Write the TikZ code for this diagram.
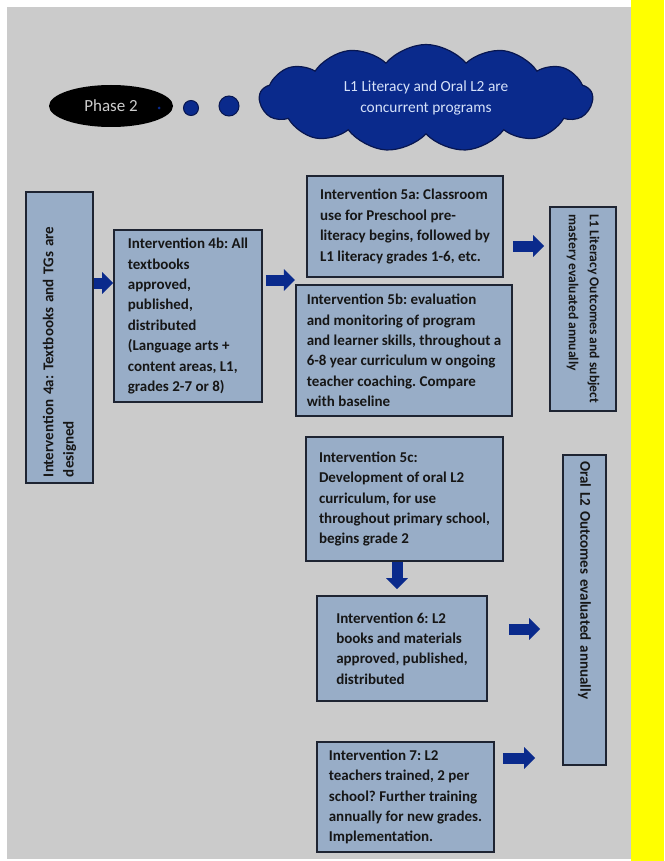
\documentclass[tikz,border=0pt]{standalone}
\usepackage{fontspec}
\setmainfont{Carlito}
\usetikzlibrary{shapes.geometric, shapes.symbols, arrows.meta, positioning}
\frenchspacing

\definecolor{bggray}{RGB}{203,203,203}
\definecolor{boxblue}{RGB}{152,173,199}
\definecolor{boxline}{RGB}{30,36,50}
\definecolor{arrowblue}{RGB}{10,42,140}
\definecolor{cloudline}{RGB}{8,22,80}
\definecolor{cloudtext}{RGB}{214,226,250}
\definecolor{phasetext}{RGB}{205,205,205}
\definecolor{textdark}{RGB}{22,22,22}
\definecolor{sideyellow}{RGB}{255,255,0}

\tikzset{
  ibox/.style={draw=boxline, line width=1.6pt, fill=boxblue, text=textdark, align=left,
    inner xsep=11pt, font=\fontsize{15}{20.4}\selectfont\bfseries},
  barrow/.style={draw=arrowblue, line width=11pt, -{Triangle[length=11pt,width=21pt]}},
  bubble/.style={circle, draw=cloudline, fill=arrowblue, inner sep=0pt, line width=1pt}
}

\begin{document}
\begin{tikzpicture}[x=1pt,y=-1pt]
		\useasboundingbox (0,0) rectangle (664,861);
		\fill[white] (0,0) rectangle (664,861);
		\fill[bggray] (7,7) rectangle (631,859);
		\fill[sideyellow] (631,0) rectangle (664,861);

		\node[ellipse, fill=black, minimum width=124pt, minimum height=42pt, inner sep=0pt,
			text=phasetext, font=\fontsize{17}{20}\selectfont] (ph) at (111,106) {Phase 2};
		\node[bubble, draw=none, minimum size=3pt] (d0) at (159,108) {};
		\node[bubble, minimum size=15pt] (d1) at (191,108) {};
		\node[bubble, minimum size=20pt] (d2) at (229,106) {};
		\node[cloud, cloud puffs=13, cloud puff arc=100, aspect=3.1, draw=cloudline, line width=1.2pt,
			fill=arrowblue, minimum width=333pt, minimum height=107pt, inner sep=0pt, text=cloudtext,
			align=center, font=\fontsize{15.4}{21}\selectfont] (cl) at (426,98) {L1 Literacy and Oral L2 are\\concurrent programs};

		\node[ibox, rotate=90, minimum width=291pt, minimum height=67pt, inner xsep=6pt, text width=279pt] (b4a) at (59.5,337.5) {Intervention 4a: Textbooks and TGs are\\designed};
		\node[ibox, minimum width=148pt, minimum height=172pt] (b4b) at (188,316) {Intervention 4b: All\\textbooks\\approved,\\published,\\distributed\\(Language arts +\\content areas, L1,\\grades 2-7 or 8)};
		\node[ibox, minimum width=196pt, minimum height=101pt] (b5a) at (405,226.5) {Intervention 5a: Classroom\\use for Preschool pre-\\literacy begins, followed by\\L1 literacy grades 1-6, etc.};
		\node[ibox, minimum width=216pt, minimum height=131pt] (b5b) at (404,350.5) {Intervention 5b: evaluation\\and monitoring of program\\and learner skills, throughout a\\6-8 year curriculum w ongoing\\teacher coaching. Compare\\with baseline};
		\node[ibox, minimum width=197pt, minimum height=124pt] (b5c) at (404.5,499) {Intervention 5c:\\Development of oral L2\\curriculum, for use\\throughout primary school,\\begins grade 2};
		\node[ibox, minimum width=170pt, minimum height=105pt] (b6) at (402,648.5) {Intervention 6: L2\\books and materials\\approved, published,\\distributed};
		\node[ibox, minimum width=177pt, minimum height=110pt] (b7) at (405.5,797) {Intervention 7: L2\\teachers trained, 2 per\\school? Further training\\annually for new grades.\\Implementation.};
		\node[ibox, rotate=-90, minimum width=204pt, minimum height=66pt, inner xsep=4pt,
			font=\fontsize{13.6}{21}\selectfont\bfseries] (l1) at (583,309) {L1 Literacy Outcomes and subject\\mastery evaluated annually};
		\node[ibox, rotate=-90, minimum width=310pt, minimum height=43pt, inner xsep=6pt, text width=298pt] (l2) at (584.5,610) {Oral L2 Outcomes evaluated annually};

		\coordinate (a4s) at ([xshift=-7.5pt]b5c.south);
		\draw[barrow] (b4a.south |- 0,283) -- (b4b.west |- 0,283);
		\draw[barrow, shorten <=3pt] (b4b.east |- 0,280) -- (b5b.west |- 0,280);
		\draw[barrow, shorten <=9pt, shorten >=5pt] (b5a.east |- 0,246) -- (l1.south |- 0,246);
		\draw[barrow, shorten >=6pt] (a4s) -- (a4s |- b6.north);
		\draw[barrow, shorten <=21pt, shorten >=22pt] (b6.east |- 0,629) -- (l2.south |- 0,629);
		\draw[barrow, shorten <=8pt, shorten >=27pt] (b7.east |- 0,758) -- (l2.south |- 0,758);
\end{tikzpicture}
\end{document}
